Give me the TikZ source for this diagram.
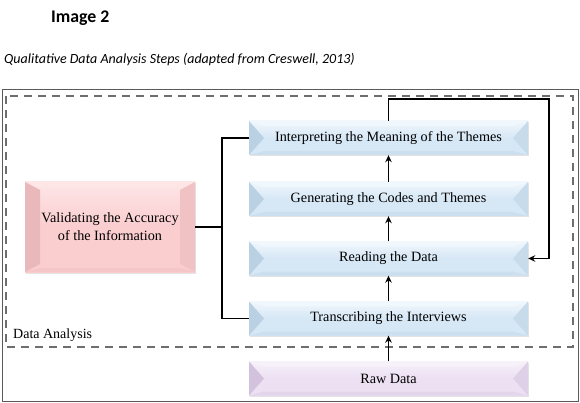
\documentclass[tikz,border=0pt]{standalone}
\usepackage{fontspec}
\setmainfont{Liberation Serif}
\newfontfamily\calibri{Carlito}
\usetikzlibrary{arrows.meta,shadows}
\definecolor{bluebase}{RGB}{214,231,245}
\definecolor{bluelight}{RGB}{240,247,253}
\definecolor{bluedark}{RGB}{186,209,227}
\definecolor{pinkbase}{RGB}{250,205,207}
\definecolor{pinklight}{RGB}{254,230,231}
\definecolor{pinkdark}{RGB}{232,184,187}
\definecolor{purpbase}{RGB}{236,224,242}
\definecolor{purplight}{RGB}{247,241,250}
\definecolor{purpdark}{RGB}{210,194,221}
\definecolor{framegrey}{RGB}{90,90,90}
\definecolor{dashgrey}{RGB}{110,110,110}
% #1 base, #2 dark, #3 light, #4 horizontal inset, #5 vertical inset of side facets
\newcommand\bevelfill[5]{%
  \def\bb{path picture bounding box}%
  \shade[top color=#3,bottom color=#1,middle color=#1] (\bb.south west) rectangle (\bb.north east);
  \fill[#3] (\bb.north west) -- (\bb.north east) -- ([xshift=-#4,yshift=-5pt]\bb.north east) -- ([xshift=#4,yshift=-5pt]\bb.north west) -- cycle;
  \fill[#2!35!#1] (\bb.south west) -- ([xshift=#4,yshift=4pt]\bb.south west) -- ([xshift=-#4,yshift=4pt]\bb.south east) -- (\bb.south east) -- cycle;
  \fill[#2] (\bb.north west) -- ([xshift=#4,yshift=-#5]\bb.north west) -- ([xshift=#4,yshift=#5]\bb.south west) -- (\bb.south west) -- cycle;
  \fill[#2!55!#1] (\bb.north east) -- ([xshift=-#4,yshift=-#5]\bb.north east) -- ([xshift=-#4,yshift=#5]\bb.south east) -- (\bb.south east) -- cycle;
}
\tikzset{
  x=1pt, y=-1pt,
  boxbase/.style={inner sep=0pt, align=center,
    font=\fontsize{14.2}{18}\selectfont,
    drop shadow={opacity=0.22, shadow xshift=1pt, shadow yshift=-1.5pt}},
  bluebox/.style={boxbase, minimum width=279pt, minimum height=34pt,
    path picture={\bevelfill{bluebase}{bluedark}{bluelight}{15pt}{17pt}}},
  pinkbox/.style={boxbase, minimum width=170pt, minimum height=90pt,
    path picture={\bevelfill{pinkbase}{pinkdark}{pinklight}{15pt}{8pt}}},
  purpbox/.style={boxbase, minimum width=279pt, minimum height=34pt,
    path picture={\bevelfill{purpbase}{purpdark}{purplight}{15pt}{17pt}}},
  conn/.style={line width=1.6pt, black},
  arr/.style={conn, -{Stealth[length=7pt,width=6.5pt]}},
}
\begin{document}
\begin{tikzpicture}
\useasboundingbox (0,0) rectangle (580,403);
\node[font=\calibri\bfseries\fontsize{17.8}{20}\selectfont, anchor=west, inner sep=0pt] (title) at (51,18) {Image 2};
\node[font=\calibri\itshape\fontsize{14}{16}\selectfont, anchor=west, inner sep=0pt] (sub) at (4,60) {Qualitative Data Analysis Steps (adapted from Creswell, 2013)};
\draw[draw=framegrey, line width=1pt] (2,90) rectangle (578,401);
\draw[draw=dashgrey, line width=1.2pt, dash pattern=on 8pt off 6pt] (6,96) rectangle (573,347);
\node[anchor=base west, inner sep=0pt, font=\fontsize{14}{16}\selectfont] (da) at (13,338) {Data Analysis};

\node[bluebox] (interp) at (388.5,138) {Interpreting the Meaning of the Themes};
\node[bluebox] (gen) at (388.5,199) {Generating the Codes and Themes};
\node[bluebox] (read) at (388.5,258.5) {Reading the Data};
\node[bluebox] (trans) at (388.5,318.5) {Transcribing the Interviews};
\node[purpbox] (raw) at (388.5,378.5) {Raw Data};
\node[pinkbox] (valid) at (110,227) {Validating the Accuracy\\of the Information};

\draw[arr] (raw) -- (trans);
\draw[arr] (trans) -- (read);
\draw[arr] (read) -- (gen);
\draw[arr] (gen) -- (interp);
\coordinate (lt) at (549,99);
\draw[arr] (interp.north) |- (lt) |- (read.east);
\coordinate (br) at (222,227);
\draw[conn] (valid.east) -- (br);
\draw[conn] (interp.west) -| (br) |- (trans.west);
\end{tikzpicture}
\end{document}
